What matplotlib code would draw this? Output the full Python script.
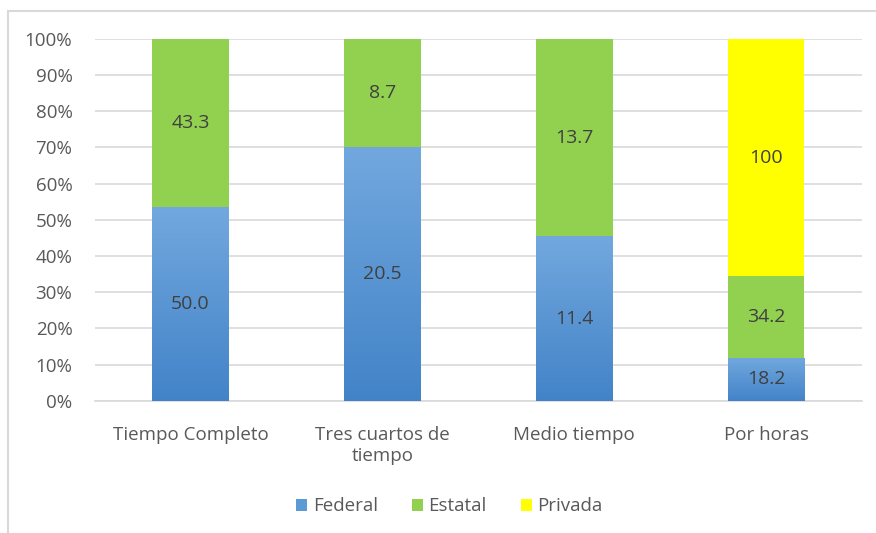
import numpy as np
import matplotlib
matplotlib.use("Agg")
import matplotlib.pyplot as plt
from matplotlib.colors import LinearSegmentedColormap

categories = ["Tiempo Completo", "Tres cuartos de\ntiempo", "Medio tiempo", "Por horas"]
federal = [50.0, 20.5, 11.4, 18.2]
estatal = [43.3, 8.7, 13.7, 34.2]
privada = [0.0, 0.0, 0.0, 100.0]
series_names = ["Federal", "Estatal", "Privada"]

plt.rcParams['font.family'] = ['Open Sans', 'DejaVu Sans']

fed = np.array(federal)
est = np.array(estatal)
pri = np.array(privada)
tot = fed + est + pri
fed_p = fed / tot * 100
est_p = est / tot * 100
pri_p = pri / tot * 100

fig = plt.figure(figsize=(8.76, 5.33), dpi=100)
ax = fig.add_axes([0.108, 0.248, 0.876, 0.679])

x = np.arange(len(categories))
width = 0.4
blue = "#5B9BD5"
green = "#92D050"
yellow = "#FFFF00"

bars_f = ax.bar(x, fed_p, width, color=blue, label=series_names[0], zorder=3)
bars_e = ax.bar(x, est_p, width, bottom=fed_p, color=green, label=series_names[1], zorder=3)
bars_p = ax.bar(x, pri_p, width, bottom=fed_p + est_p, color=yellow, label=series_names[2], zorder=3)

# gradient fill for the blue bars
cmap = LinearSegmentedColormap.from_list("bl", ["#4283C8", "#72A8DE"])
grad = np.linspace(0, 1, 256).reshape(-1, 1)
for b in bars_f:
    x0, y0 = b.get_x(), b.get_y()
    w, h = b.get_width(), b.get_height()
    im = ax.imshow(grad, cmap=cmap, aspect='auto', origin='lower',
                   extent=[x0, x0 + w, y0, y0 + h], zorder=3.5)
    im.set_clip_path(b)

txt = "#404040"
fs_lab = 14
for i in range(len(categories)):
    ax.text(x[i], fed_p[i] / 2, f"{fed[i]:.1f}", ha='center', va='center', fontsize=fs_lab, color=txt, zorder=5)
    ax.text(x[i], fed_p[i] + est_p[i] / 2, f"{est[i]:.1f}", ha='center', va='center', fontsize=fs_lab, color=txt, zorder=5)
    if pri[i] > 0:
        ax.text(x[i], fed_p[i] + est_p[i] + pri_p[i] / 2, f"{pri[i]:g}", ha='center', va='center', fontsize=fs_lab, color=txt, zorder=5)

ax.set_xlim(-0.5, len(categories) - 0.5)
ax.set_ylim(0, 100)
ax.set_yticks(np.arange(0, 101, 10))
ax.set_yticklabels([f"{v}%" for v in range(0, 101, 10)])
ax.set_xticks(x)
ax.set_xticklabels(categories, linespacing=1.25)
ax.yaxis.grid(True, color="#D9D9D9", linewidth=1.2, zorder=0)
ax.set_axisbelow(True)
for s in ax.spines.values():
    s.set_visible(False)
ax.spines['bottom'].set_visible(True)
ax.spines['bottom'].set_color("#D9D9D9")
ax.spines['bottom'].set_linewidth(1.2)
ax.tick_params(axis='both', length=0, labelsize=13.5, colors="#595959")
ax.tick_params(axis='y', pad=16)
ax.tick_params(axis='x', pad=18)

leg = fig.legend(handles=[bars_f, bars_e, bars_p], labels=series_names, loc='center',
                 bbox_to_anchor=(0.513, 0.050), ncol=3, frameon=False, fontsize=13.5,
                 handlelength=0.6, handleheight=0.6, handletextpad=0.3, columnspacing=1.8)
for t in leg.get_texts():
    t.set_color("#595959")

# chart frame (left and top edges visible)
fig.add_artist(plt.Line2D([0.0097, 0.0097], [0, 0.979], color="#D9D9D9", linewidth=1.5, transform=fig.transFigure))
fig.add_artist(plt.Line2D([0.0097, 1.0], [0.979, 0.979], color="#D9D9D9", linewidth=1.5, transform=fig.transFigure))

fig.savefig("out.png", dpi=100)
